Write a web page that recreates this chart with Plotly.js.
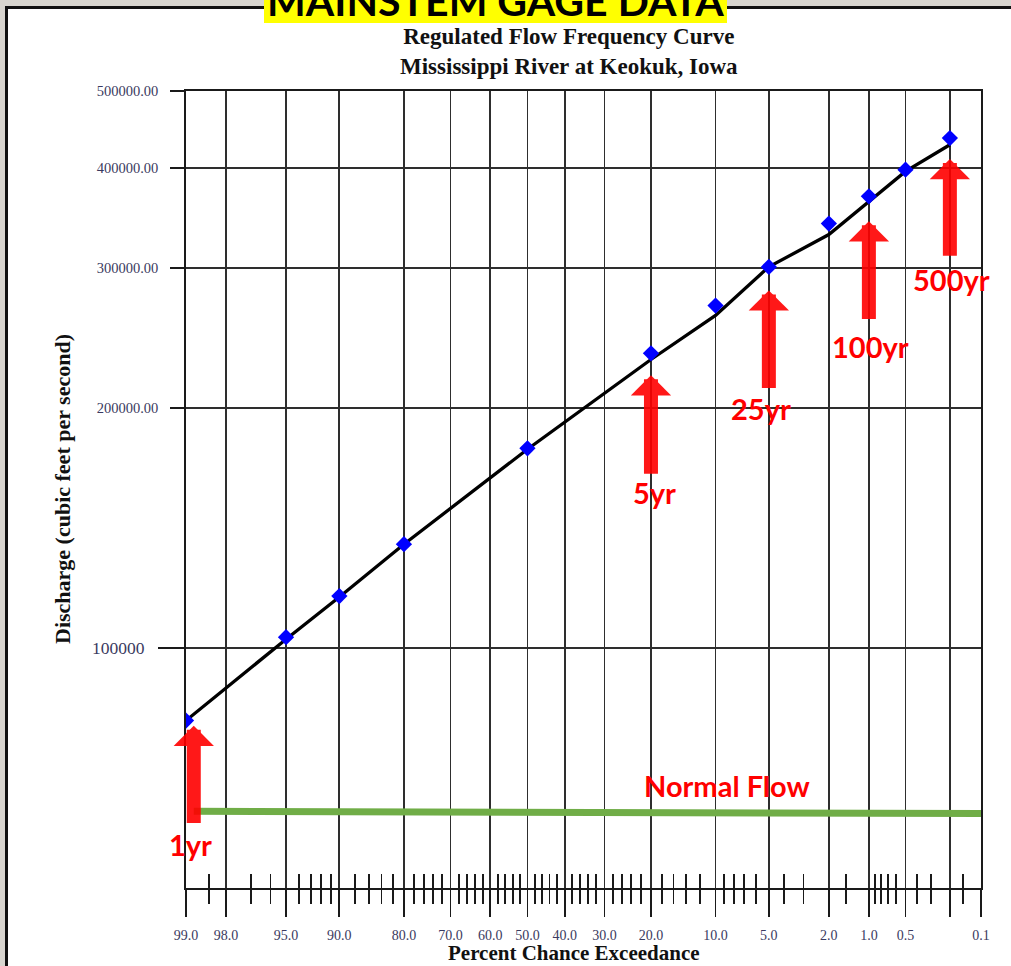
<!DOCTYPE html>
<html><head><meta charset="utf-8">
<script src="https://cdn.plot.ly/plotly-3.0.1.min.js"></script>
<style>
html,body{margin:0;padding:0;width:1011px;height:966px;overflow:hidden;background:#d8d5cf;}
#frame{position:absolute;left:5px;top:6px;width:1030px;height:990px;background:#fff;border-left:3px solid #111;border-top:3px solid #111;}
#chart{position:absolute;left:0;top:0;width:1011px;height:966px;}
</style></head><body><div id="frame"></div><div id="chart"></div>
<script>
// Percent chance exceedance vs discharge (cfs)
const pointPct  = [99, 95, 90, 80, 50, 20, 10, 5, 2, 1, 0.5, 0.2];
const pointFlow = [81100, 103200, 116200, 135000, 178100, 234300, 269000, 300800, 340900, 368800, 398300, 436500];
const curvePct  = [99, 95, 90, 80, 50, 20, 10, 5, 2, 1, 0.5, 0.2];
const curveFlow = [81100, 102600, 115900, 135000, 177600, 230200, 261500, 300800, 330300, 363500, 396300, 428100];
const normalPct  = [98.85, 0.1];
const normalFlow = [62400, 62000];
const majorPct  = [99, 98, 95, 90, 80, 70, 60, 50, 40, 30, 20, 10, 5, 2, 1, 0.5, 0.2, 0.1];
const majorText = ['99.0','98.0','95.0','90.0','80.0','70.0','60.0','50.0','40.0','30.0','20.0','10.0','5.0','2.0','1.0','0.5','','0.1'];
const minorPct  = [98.5, 97, 96, 94, 93, 92, 91, 88, 86, 84, 82, 78, 76, 74, 72, 68, 66, 64, 62, 58, 56, 54, 52,
                   48, 46, 44, 42, 38, 36, 34, 32, 28, 26, 24, 22, 18, 16, 14, 12, 9, 8, 7, 6, 4, 3, 1.5,
                   0.9, 0.8, 0.7, 0.6, 0.4, 0.3, 0.15];
const yTickVals = [100000, 200000, 300000, 400000, 500000];
const yTickText = ['', '200000.00', '300000.00', '400000.00', '500000.00'];
const yRange = [50000, 500000];
const arrowLabels = ['1yr', '5yr', '25yr', '100yr', '500yr'];
const arrowPct   = [98.85, 20, 5, 1, 0.2];
const arrowTip   = [79900, 219900, 281000, 343200, 410800];
const arrowTail  = [60060, 164700, 211100, 257600, 309300];
const labelFlow  = [56630, 156900, 199900, 239000, 290000];
const normalLabelPct = 8.74, normalLabelFlow = 67150;

// inverse standard normal CDF (Acklam)
function invNorm(p){
  const a=[-3.969683028665376e+01,2.209460984245205e+02,-2.759285104469687e+02,1.383577518672690e+02,-3.066479806614716e+01,2.506628277459239e+00];
  const b=[-5.447609879822406e+01,1.615858368580409e+02,-1.556989798598866e+02,6.680131188771972e+01,-1.328068155288572e+01];
  const c=[-7.784894002430293e-03,-3.223964580411365e-01,-2.400758277161838e+00,-2.549732539343734e+00,4.374664141464968e+00,2.938163982698783e+00];
  const d=[7.784695709041462e-03,3.224671290700398e-01,2.445134137142996e+00,3.754408661907416e+00];
  const pl=0.02425, ph=1-pl; let q,r;
  if(p<pl){q=Math.sqrt(-2*Math.log(p));return (((((c[0]*q+c[1])*q+c[2])*q+c[3])*q+c[4])*q+c[5])/((((d[0]*q+d[1])*q+d[2])*q+d[3])*q+1);}
  if(p<=ph){q=p-0.5;r=q*q;return (((((a[0]*r+a[1])*r+a[2])*r+a[3])*r+a[4])*r+a[5])*q/(((((b[0]*r+b[1])*r+b[2])*r+b[3])*r+b[4])*r+1);}
  q=Math.sqrt(-2*Math.log(1-p));return -(((((c[0]*q+c[1])*q+c[2])*q+c[3])*q+c[4])*q+c[5])/((((d[0]*q+d[1])*q+d[2])*q+d[3])*q+1);
}
const z = pct => invNorm(1 - pct/100);
const lg = v => Math.log10(v);

const L=186, R=981, T=91, B=888;
const px = v => (v - L)/(R - L);
const py = v => (B - v)/(B - T);
const xRange = [z(99), z(0.1)];
const gridC = '#2e2e2e', tickC = '#1a1a1a', lblC = '#3a3a60';
const serif = 'Liberation Serif, Times New Roman, serif';
const redFont = {family:'Lato, Carlito, sans-serif', size:29, color:'#ff0000', weight:'bold'};

const traces = [
  {x: normalPct.map(z), y: normalFlow, mode:'lines', line:{color:'#70ad47', width:7}, hoverinfo:'skip'},
  {x: curvePct.map(z), y: curveFlow, mode:'lines', line:{color:'#000', width:3.3}, hoverinfo:'skip'},
  {x: pointPct.map(z), y: pointFlow, mode:'markers', marker:{symbol:'diamond', size:12.5, color:'#0000ff'}, hoverinfo:'skip'},
  {x: [], y: [], xaxis:'x2', yaxis:'y', hoverinfo:'skip'},
  {x: [], y: [], xaxis:'x', yaxis:'y2', hoverinfo:'skip'}
];

const labelShift = [-3, 3.5, -8, 2, 2];
const annotations = [];
arrowLabels.forEach((t,i)=>{
  annotations.push({x: z(arrowPct[i]), y: lg(arrowTip[i]), ax: z(arrowPct[i]), ay: lg(arrowTail[i]),
    xref:'x', yref:'y', axref:'x', ayref:'y', text:'', showarrow:true, arrowhead:1, arrowsize:0.48,
    arrowwidth:14, arrowcolor:'#ff0000', opacity:0.9, standoff:0});
  annotations.push({x: z(arrowPct[i]), y: lg(labelFlow[i]), xref:'x', yref:'y', text:t, showarrow:false,
    xshift: labelShift[i], xanchor:'center', yanchor:'middle', font: redFont});
});
annotations.push({x: z(normalLabelPct), y: lg(normalLabelFlow), xref:'x', yref:'y', text:'Normal Flow',
  showarrow:false, xanchor:'center', yanchor:'middle', font: redFont});
annotations.push({xref:'paper', yref:'paper', x: px(569), y: py(51), xanchor:'center', yanchor:'middle', showarrow:false,
  text:'Regulated Flow Frequency Curve<br>Mississippi River at Keokuk, Iowa', font:{family:serif, size:23, color:'#111', weight:'bold'}});
annotations.push({xref:'paper', yref:'paper', x: px(62), y: py(489), xanchor:'center', yanchor:'middle', showarrow:false, textangle:-90,
  text:'Discharge (cubic feet per second)', font:{family:serif, size:22, color:'#111', weight:'bold'}});
annotations.push({xref:'paper', yref:'paper', x: px(574), y: py(966), xanchor:'center', yanchor:'bottom', showarrow:false,
  borderpad:0, text:'Percent Chance Exceedance', font:{family:serif, size:21, color:'#111', weight:'bold'}});
annotations.push({xref:'paper', yref:'paper', x: px(495.5), y: py(27), xanchor:'center', yanchor:'bottom', showarrow:false,
  text:'MAINSTEM GAGE DATA', font:{family:'Lato, sans-serif', size:41, color:'#000', weight:'bold'}});

const layout = {
  width:1011, height:966, margin:{l:L, r:1011-R, t:T, b:966-B},
  paper_bgcolor:'rgba(0,0,0,0)', plot_bgcolor:'rgba(0,0,0,0)', showlegend:false,
  xaxis:{range:xRange, tickmode:'array', tickvals: majorPct.map(z), ticktext: majorText,
    ticks:'outside', ticklen:27, tickwidth:1.8, tickcolor:tickC, showgrid:true, gridcolor:gridC, gridwidth:1.8,
    zeroline:false, showline:true, mirror:true, linecolor:tickC, linewidth:1.8,
    tickfont:{family:serif, size:14, color:lblC}, ticklabelstandoff:6,
    minor:{tickmode:'array', tickvals: minorPct.map(z), ticks:'outside', ticklen:14, tickwidth:1.8, tickcolor:tickC, showgrid:false}},
  xaxis2:{range:xRange, overlaying:'x', anchor:'y', side:'bottom', tickmode:'array', tickvals: minorPct.map(z),
    ticks:'inside', ticklen:14, tickwidth:1.8, tickcolor:tickC, showticklabels:false, showgrid:false, zeroline:false, showline:false},
  yaxis:{type:'log', range: yRange.map(lg), tickmode:'array', tickvals:yTickVals, ticktext:yTickText,
    ticks:'outside', ticklen:14, tickwidth:1.8, tickcolor:tickC, showgrid:true, gridcolor:gridC, gridwidth:1.8,
    zeroline:false, showline:true, mirror:true, linecolor:tickC, linewidth:1.8,
    tickfont:{family:serif, size:14.5, color:lblC}, ticklabelstandoff:9},
  yaxis2:{type:'log', range: yRange.map(lg), overlaying:'y', anchor:'x', side:'left', tickmode:'array',
    tickvals:[100000], ticktext:['100000'], ticks:'outside', ticklen:27, tickwidth:1.8, tickcolor:tickC,
    showgrid:false, zeroline:false, showline:false, tickfont:{family:serif, size:17.5, color:lblC}, ticklabelstandoff:10},
  shapes:[{type:'rect', xref:'paper', yref:'paper', x0:px(264), x1:px(727), y0:py(23), y1:py(-10),
    fillcolor:'#ffff00', line:{width:0}, layer:'below'}],
  annotations: annotations
};
Plotly.newPlot('chart', traces, layout, {staticPlot:true});
</script></body></html>
